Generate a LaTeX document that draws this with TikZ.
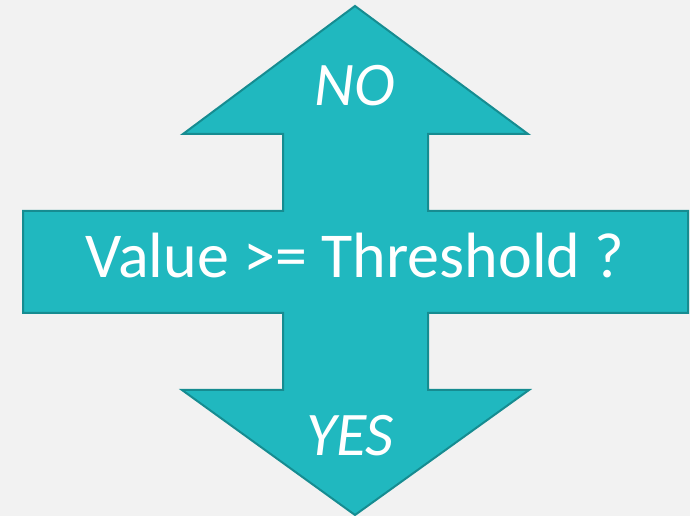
\documentclass[tikz,border=0pt]{standalone}
\usepackage{fontspec}
\setmainfont{Carlito}
\usepackage{tikz}
\usetikzlibrary{positioning,calc}
\definecolor{bgray}{HTML}{F2F2F2}
\definecolor{tealfill}{HTML}{20B8BF}
\definecolor{tealline}{HTML}{168C91}

\begin{document}
\begin{tikzpicture}[x=1pt,y=1pt,
  arrowshape/.style={fill=tealfill,draw=tealline,line width=2pt,line join=miter},
  label/.style={text=white,font=\fontsize{64}{72}\selectfont,inner sep=0pt,anchor=base},
  answer/.style={label,font=\fontsize{62}{70}\selectfont\itshape}]
  \fill[bgray] (0,0) rectangle (690,516);
  \useasboundingbox (0,0) rectangle (690,516);
%
  \draw[arrowshape] (355,510) -- (528,382) -- (428,382) -- (428,305) -- (688,305)
    -- (688,203) -- (428,203) -- (428,126) -- (529,126) -- (355,1) -- (182,126)
    -- (283,126) -- (283,203) -- (23,203) -- (23,305) -- (283,305) -- (283,382)
    -- (183,382) -- cycle;
%
  \node[label] (question) at (355,238) {Value >= Threshold ?};
  \node[answer] (no) at (355,410) {NO};
  \node[answer] (yes) at (350,60) {YES};
\end{tikzpicture}
\end{document}
